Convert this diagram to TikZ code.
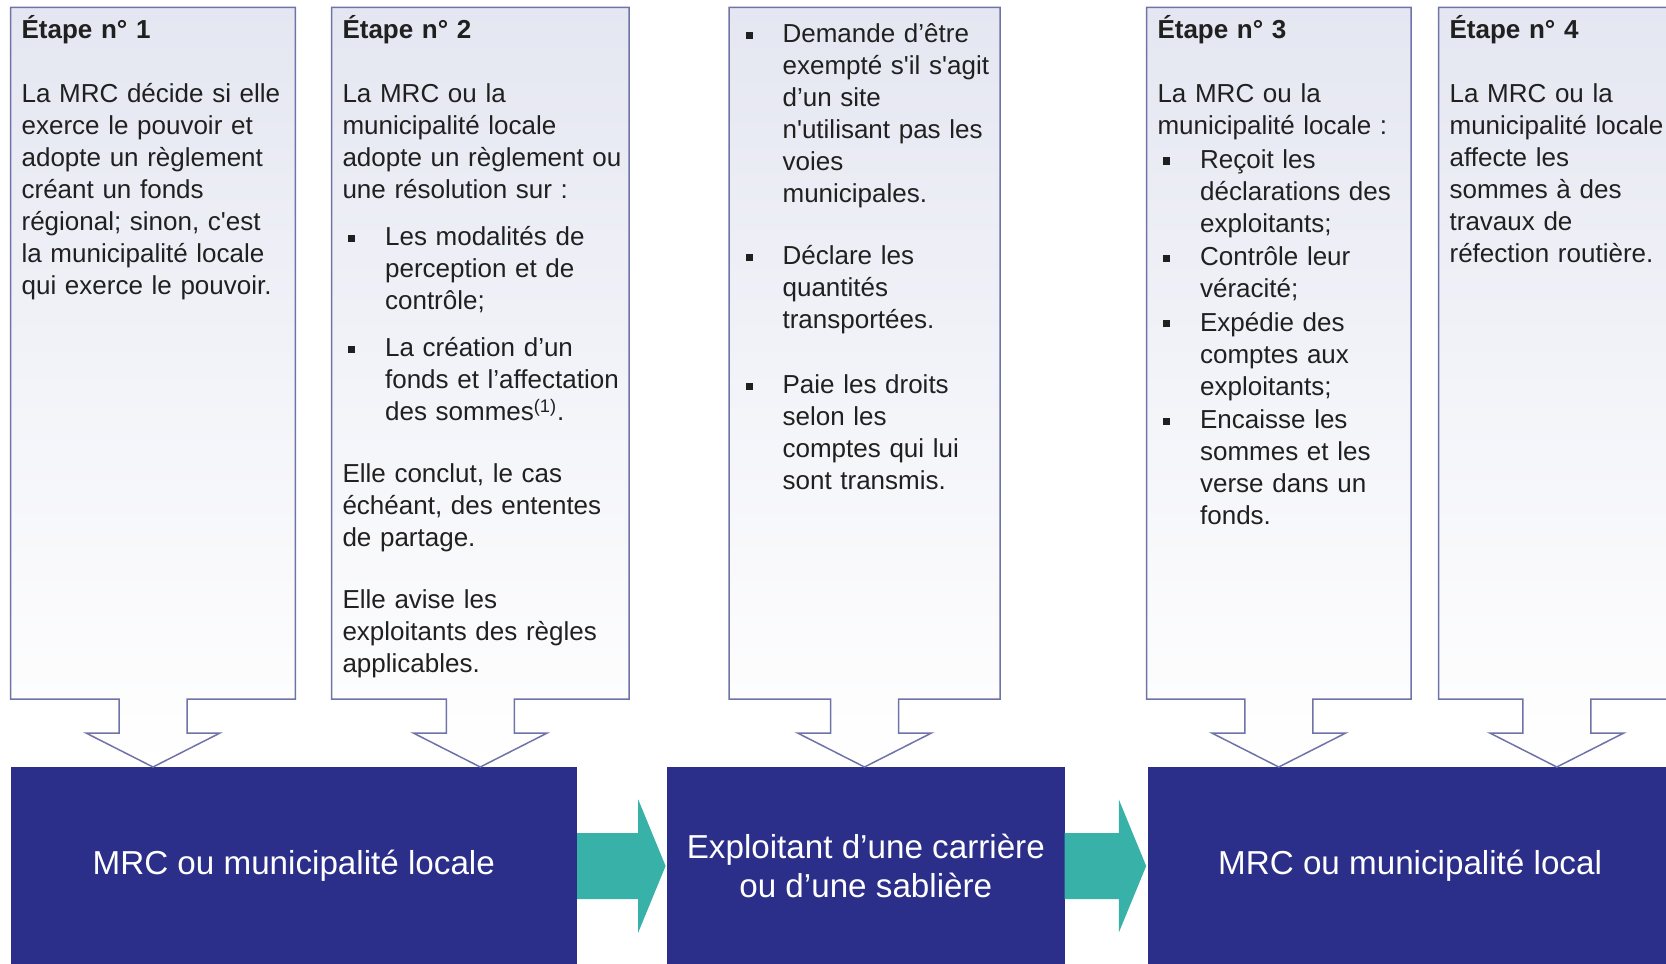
\documentclass[tikz,border=0pt]{standalone}
\usepackage{fontspec}
\setmainfont{Liberation Sans}
\usetikzlibrary{calc}
\usetikzlibrary{positioning}
\setlength{\parindent}{0pt}
\definecolor{mrcblue}{HTML}{2C2F8A}
\definecolor{edgeblue}{HTML}{7073A8}
\definecolor{fillblue}{HTML}{E4E6F1}
\definecolor{flowteal}{HTML}{38B2A9}
\definecolor{inktext}{HTML}{202020}
% square bullet with hanging indent
\newcommand{\puce}{\par\hangindent=21.3pt\hangafter=0\noindent\llap{\rule[1.8pt]{3.6pt}{3.6pt}\hspace{14.9pt}}}

\begin{document}
\begin{tikzpicture}[
        x=0.5pt, y=-0.5pt,
        stepbox/.style={rectangle, minimum width=#1, minimum height=345.8pt, inner sep=0pt, outer sep=0pt, anchor=north west},
        steptext/.style={inner sep=0pt, text width=#1, align=left, text=inktext, font=\fontsize{13}{16}\selectfont},
        callout/.style={draw=edgeblue, line width=0.75pt, top color=fillblue, bottom color=white, middle color=fillblue!45},
        mrcbox/.style={rectangle, fill=mrcblue, text=white, minimum height=99pt, inner sep=0pt, outer sep=0pt, align=center, font=\fontsize{16.6}{19.6}\selectfont},
        flow/.style={fill=flowteal},
    ]
    \useasboundingbox (0,0) rectangle (1666,964);
    \clip (0,0) rectangle (1666,964);

    \node[stepbox=142.4pt]  (s1) at (10.6,7.4)   {};
    \node[stepbox=148.75pt] (s2) at (331.5,7.4)  {};
    \node[stepbox=135.5pt]  (s3) at (729,7.4)    {};
    \node[stepbox=132.25pt] (s4) at (1146.5,7.4) {};
    \node[stepbox=118.2pt]  (s5) at (1438.6,7.4) {};

    \node[mrcbox, minimum width=283.2pt, anchor=north west] (m1) at (10.6,767) {MRC ou municipalité locale};
    \node[mrcbox, minimum width=198.8pt, right=45pt of m1]   (m2) {Exploitant d’une carrière\\ou d’une sablière};
    \node[mrcbox, minimum width=262.5pt, right=41.5pt of m2] (m3) {MRC ou municipalité local};

    % boxes with their hollow arrows
    \foreach \s/\m in {s1/m1, s2/m1, s3/m2, s4/m3, s5/m3}
        \draw[callout] (\s.north west) -- (\s.north east) -- (\s.south east)
            -- ($(\s.south)+(17pt,0)$) -- ++(0,-17pt) -- ++(16.5pt,0)
            -- (\s.south |- \m.north)
            -- ($(\s.south)+(-33.5pt,-17pt)$) -- ++(16.5pt,0)
            -- ($(\s.south)+(-17pt,0)$) -- (\s.south west) -- cycle;

    \node[steptext=138pt, below right=3.5pt and 5.3pt of s1.north west] (t1) {\rule{0pt}{12pt}\textbf{Étape n° 1}\par\vspace{16pt}
        La MRC décide si elle\\ exerce le pouvoir et\\ adopte un règlement\\ créant un fonds\\ régional; sinon, c\textquotesingle est\\ la municipalité locale\\ qui exerce le pouvoir.};

    \node[steptext=144pt, below right=3.5pt and 5.3pt of s2.north west] (t2) {\rule{0pt}{12pt}\textbf{Étape n° 2}\par\vspace{16pt}
        La MRC ou la\\ municipalité locale\\ adopte un règlement ou\\ une résolution sur~:\par\vspace{7.5pt}
        \puce Les modalités de\newline perception et de\newline contrôle;\par\vspace{7.5pt}
        \puce La création d’un\newline fonds et l’affectation\newline des sommes\textsuperscript{(1)}.\par\vspace{15pt}
        Elle conclut, le cas\\ échéant, des ententes\\ de partage.\par\vspace{15pt}
        Elle avise les\\ exploitants des règles\\ applicables.};

    \node[steptext=131pt, below right=1.3pt and 5.3pt of s3.north west] (t3) {%
        \puce\rule{0pt}{12pt}Demande d’être\newline exempté s\textquotesingle il s\textquotesingle agit\newline d’un site\newline n\textquotesingle utilisant pas les\newline voies\newline municipales.\par\vspace{15pt}
        \puce Déclare les\newline quantités\newline transportées.\par\vspace{16.5pt}
        \puce Paie les droits\newline selon les\newline comptes qui lui\newline sont transmis.\par};

    \node[steptext=128pt, below right=3.5pt and 5.3pt of s4.north west] (t4) {\rule{0pt}{12pt}\textbf{Étape n° 3}\par\vspace{16pt}
        La MRC ou la\\ municipalité locale~:\par\vspace{0.7pt}
        \puce Reçoit les\newline déclarations des\newline exploitants;\par\vspace{0.7pt}
        \puce Contrôle leur\newline véracité;\par\vspace{0.7pt}
        \puce Expédie des\newline comptes aux\newline exploitants;\par\vspace{0.7pt}
        \puce Encaisse les\newline sommes et les\newline verse dans un\newline fonds.\par};

    \node[steptext=114pt, below right=3.5pt and 5.3pt of s5.north west] (t5) {\rule{0pt}{12pt}\textbf{Étape n° 4}\par\vspace{16pt}
        La MRC ou la\\ municipalité locale\\ affecte les\\ sommes à des\\ travaux de\\ réfection routière.};

    % flow between the actors
    \foreach \a/\b in {m1/m2, m2/m3}
        \fill[flow] ($(\a.east)+(0,16.5pt)$) -- ($(\b.west)+(-14.4pt,16.5pt)$)
            -- ($(\b.west)+(-14.4pt,33.3pt)$) -- ($(\b.west)+(-0.7pt,0)$)
            -- ($(\b.west)+(-14.4pt,-33.3pt)$) -- ($(\b.west)+(-14.4pt,-16.5pt)$)
            -- ($(\a.east)+(0,-16.5pt)$) -- cycle;

\end{tikzpicture}
\end{document}
